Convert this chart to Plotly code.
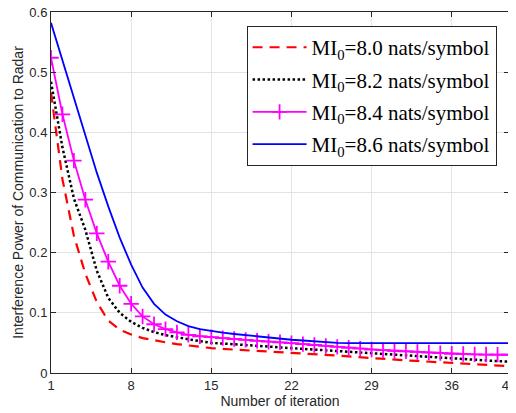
import plotly.graph_objects as go

iterations = list(range(1, 42))

mi_80 = [0.466, 0.322, 0.228, 0.165, 0.118, 0.087, 0.072, 0.064, 0.058, 0.054,
         0.051, 0.048, 0.0455, 0.043, 0.0413, 0.040, 0.039, 0.038, 0.0365, 0.035,
         0.034, 0.033, 0.032, 0.031, 0.030, 0.029, 0.0275, 0.026, 0.0247, 0.0235,
         0.0222, 0.021, 0.020, 0.0188, 0.0175, 0.0163, 0.015, 0.014, 0.013, 0.012, 0.0113]

mi_82 = [0.484, 0.375, 0.290, 0.238, 0.170, 0.125, 0.100, 0.085, 0.075, 0.068,
         0.063, 0.059, 0.056, 0.053, 0.050, 0.049, 0.048, 0.0465, 0.045, 0.044,
         0.0425, 0.0413, 0.040, 0.039, 0.0375, 0.036, 0.0348, 0.0335, 0.032, 0.031,
         0.030, 0.029, 0.0275, 0.026, 0.025, 0.0236, 0.0225, 0.0215, 0.0205, 0.0197, 0.019]

mi_84 = [0.524, 0.430, 0.353, 0.288, 0.232, 0.185, 0.145, 0.115, 0.094, 0.081,
         0.073, 0.0676, 0.0635, 0.061, 0.0596, 0.058, 0.0565, 0.055, 0.0535, 0.052,
         0.051, 0.0496, 0.048, 0.0465, 0.045, 0.0435, 0.042, 0.0405, 0.039, 0.038,
         0.037, 0.036, 0.035, 0.034, 0.033, 0.032, 0.0315, 0.031, 0.0307, 0.0305, 0.0303]

mi_86 = [0.582, 0.520, 0.455, 0.392, 0.333, 0.277, 0.225, 0.180, 0.142, 0.115,
         0.097, 0.086, 0.078, 0.073, 0.0695, 0.067, 0.0648, 0.0628, 0.0608, 0.059,
         0.057, 0.0553, 0.054, 0.0525, 0.0512, 0.050, 0.0497, 0.0497, 0.0497, 0.0497,
         0.0497, 0.0497, 0.0497, 0.0497, 0.0497, 0.0497, 0.0497, 0.0497, 0.0497, 0.0497, 0.0497]

names = ["MI<sub>0</sub>=8.0 nats/symbol", "MI<sub>0</sub>=8.2 nats/symbol",
         "MI<sub>0</sub>=8.4 nats/symbol", "MI<sub>0</sub>=8.6 nats/symbol"]

x_ticks = [1, 8, 15, 22, 29, 36, 41]

fig = go.Figure()
fig.add_trace(go.Scatter(x=iterations, y=mi_80, mode="lines", name=names[0], legendgroup="a",
                         line=dict(color="#ff0000", width=2.2, dash="10px,7px")))
fig.add_trace(go.Scatter(x=iterations, y=mi_82, mode="lines", name=names[1], legendgroup="b",
                         line=dict(color="#000000", width=2.5, dash="2.5px,2.5px")))
fig.add_trace(go.Scatter(x=iterations, y=mi_84, mode="lines+markers", name=names[2], legendgroup="c",
                         line=dict(color="#ff00ff", width=1.8),
                         marker=dict(symbol="cross-thin", size=11, line=dict(color="#ff00ff", width=1.8))))
fig.add_trace(go.Scatter(x=iterations, y=mi_86, mode="lines", name=names[3], legendgroup="d",
                         line=dict(color="#0000ff", width=1.8)))

# page body has an 8px default margin, so the figure is sized to fit the 516x413 window
fig.update_layout(
    width=508, height=405,
    margin=dict(l=43, r=7, t=4, b=40, autoexpand=False),
    paper_bgcolor="white", plot_bgcolor="white",
    font=dict(family="Liberation Sans, Arial", size=13, color="#262626"),
    legend=dict(
        x=0.427, y=0.961, xanchor="left", yanchor="top",
        bgcolor="white", bordercolor="#262626", borderwidth=1,
        font=dict(family="Liberation Serif, Times New Roman", size=21, color="#000000"),
        tracegroupgap=2, itemwidth=54,
    ),
    xaxis=dict(
        range=[1, 41], tickvals=x_ticks, ticktext=[str(v) for v in x_ticks],
        showgrid=True, gridcolor="#e3e3e3", gridwidth=1, automargin=False,
        zeroline=False, showline=True, linecolor="#262626", linewidth=1, mirror="ticks",
        ticks="inside", ticklen=5, tickcolor="#262626", ticklabeloverflow="allow",
        title=dict(text="Number of iteration", font=dict(size=14), standoff=2),
        tickfont=dict(size=13),
    ),
    yaxis=dict(
        range=[0, 0.6], dtick=0.1, tick0=0, automargin=False,
        showgrid=True, gridcolor="#e3e3e3", gridwidth=1,
        zeroline=False, showline=True, linecolor="#262626", linewidth=1, mirror="ticks",
        ticks="inside", ticklen=5, tickcolor="#262626", ticklabeloverflow="allow",
        title=dict(text="Interference Power of Communication to Radar", font=dict(size=14), standoff=2),
        tickfont=dict(size=13),
    ),
)

fig.write_html("out.html")
